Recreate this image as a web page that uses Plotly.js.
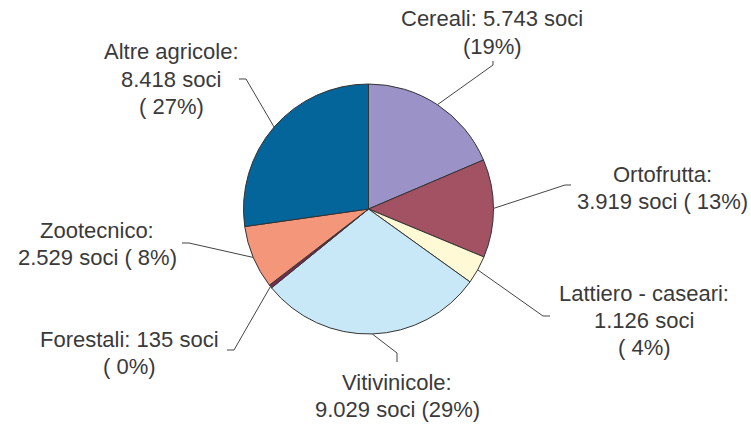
<!DOCTYPE html>
<html>
<head>
<meta charset="utf-8">
<script src="https://cdn.plot.ly/plotly-3.0.1.min.js"></script>
<style>html,body{margin:0;padding:0;background:#fff;}</style>
</head>
<body>
<div id="chart" style="width:751px;height:424px;"></div>
<script>
// ---- data ----
const categories = ["Cereali", "Ortofrutta", "Lattiero - caseari", "Vitivinicole", "Forestali", "Zootecnico", "Altre agricole"];
const soci = [5743, 3919, 1126, 9029, 135, 2529, 8418];
const labelLines = [
  ["Cereali: 5.743 soci", "(19%)"],
  ["Ortofrutta:", "3.919 soci ( 13%)"],
  ["Lattiero - caseari:", "1.126 soci", "( 4%)"],
  ["Vitivinicole:", "9.029 soci (29%)"],
  ["Forestali: 135 soci", "( 0%)"],
  ["Zootecnico:", "2.529 soci ( 8%)"],
  ["Altre agricole:", "8.418 soci", "( 27%)"]
];
const colors = ["#9B93C8", "#A35263", "#FFF9D5", "#C8E8F8", "#7A2A4F", "#F4967A", "#03659A"];

// ---- layout geometry (pixels) ----
const W = 751, H = 424;
const cx = 368.5, cy = 209, R = 125;
// label block: center x, first line center y
const labelPos = [[492, 19], [662, 174], [644, 293], [397, 382], [129, 339], [97, 230], [171, 52]];
// leader: elbow point and end point
const leaderPts = [
  [[493, 65], [493, 61]],
  [[565, 185], [571, 185]],
  [[543, 316], [550, 316]],
  [[397, 353], [397, 362]],
  [[234, 350], [227, 350]],
  [[189, 243], [182, 243]],
  [[246, 79], [239, 79]]
];
const lineGap = 27;

const px = x => x / W;
const py = y => 1 - y / H;

const total = soci.reduce((a, b) => a + b, 0);
const shapes = [];
const annotations = [];
let cum = 0;
soci.forEach((v, i) => {
  const mid = (cum + v / 2) / total * 2 * Math.PI;
  cum += v;
  const ex = cx + R * Math.sin(mid), ey = cy - R * Math.cos(mid);
  const [e1, e2] = leaderPts[i];
  shapes.push({
    type: "path", xref: "paper", yref: "paper",
    path: `M ${px(ex)},${py(ey)} L ${px(e1[0])},${py(e1[1])} L ${px(e2[0])},${py(e2[1])}`,
    line: {color: "#444", width: 1}
  });
  labelLines[i].forEach((t, j) => {
    annotations.push({
      text: t, xref: "paper", yref: "paper",
      x: px(labelPos[i][0]), y: py(labelPos[i][1] + j * lineGap),
      xanchor: "center", yanchor: "middle", showarrow: false,
      font: {family: "Liberation Sans, Arial, sans-serif", size: 22, color: "#3a3a3a"}
    });
  });
});

const trace = {
  type: "pie",
  labels: categories,
  values: soci,
  sort: false,
  direction: "clockwise",
  rotation: 0,
  textinfo: "none",
  hoverinfo: "skip",
  marker: {colors: colors, line: {color: "#333", width: 1}},
  domain: {x: [px(cx - R), px(cx + R)], y: [py(cy + R), py(cy - R)]},
  showlegend: false
};

Plotly.newPlot("chart", [trace], {
  width: W, height: H,
  margin: {l: 0, r: 0, t: 0, b: 0},
  paper_bgcolor: "#fff",
  showlegend: false,
  shapes: shapes,
  annotations: annotations
}, {staticPlot: true});
</script>
</body>
</html>
